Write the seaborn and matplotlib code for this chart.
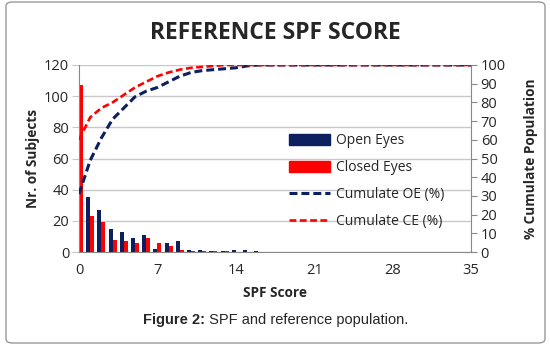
import numpy as np
import pandas as pd
import matplotlib
matplotlib.use("Agg")
import matplotlib.pyplot as plt
from matplotlib.patches import FancyBboxPatch, Patch
from matplotlib.lines import Line2D
import seaborn as sns

# SPF score 0..35
scores = list(range(36))

# number of subjects per score (OE at 0 is hidden by the axis)
open_eyes = [59, 35, 27, 15, 13, 9, 11, 2, 6, 7, 1.5, 1, 0.5, 0.5, 1, 1, 0.5] + [0] * 19
closed_eyes = [107, 23, 19, 8, 7, 6, 9, 6, 4, 1.5, 0.6, 0.5, 0.5, 0.5, 0, 0, 0] + [0] * 19

# cumulative population (%)
cum_oe = [31, 49, 61, 71, 77, 83, 86, 88, 91, 94, 96, 97, 97.5, 98, 98.5, 99.5] + [100] * 20
cum_ce = [60, 72, 77, 80, 84, 88, 91, 94, 96, 97.5, 98.5, 99, 99.5] + [100] * 23

navy = "#0c1f5e"
red = "#ff0000"
dash = (0, (2.6, 1.3))

sns.set_style("white")
plt.rcParams["font.family"] = ["Open Sans", "DejaVu Sans"]

df = pd.DataFrame({
    "score": scores * 2,
    "count": open_eyes + closed_eyes,
    "group": ["Open Eyes"] * 36 + ["Closed Eyes"] * 36,
})

fig = plt.figure(figsize=(5.5, 3.46), dpi=100)
ax = fig.add_axes([79 / 550, 1 - 252 / 346, (471 - 79) / 550, (252 - 65) / 346])

sns.barplot(data=df, x="score", y="count", hue="group", order=scores,
            hue_order=["Open Eyes", "Closed Eyes"], palette=[navy, red],
            width=0.7, gap=0, saturation=1, dodge=True, linewidth=0,
            ax=ax, legend=False)

ax.set_xlim(0, 35)
ax.set_ylim(0, 120)
ax.set_yticks(range(0, 121, 20))
ax.set_xticks(range(0, 36, 7))
ax.set_xticklabels([str(v) for v in range(0, 36, 7)])
ax.set_xticks(np.arange(0, 35.01, 0.7), minor=True)
ax.grid(axis="y", color="#c8c8c8", lw=1)
ax.set_axisbelow(True)
ax.tick_params(axis="x", which="both", direction="out", length=4, color="#888888",
               labelsize=10.5, pad=4)
ax.tick_params(axis="y", direction="out", length=5, color="#c8c8c8", labelsize=10.5, pad=2)
for s in ["top", "right"]:
    ax.spines[s].set_visible(False)
for s in ["left", "bottom"]:
    ax.spines[s].set_color("#888888")
ax.set_xlabel("SPF Score", fontsize=9.8, fontweight="bold", labelpad=6)
ax.set_ylabel("Nr. of Subjects", fontsize=9.8, fontweight="bold", labelpad=3)

ax2 = ax.twinx()
sns.lineplot(x=scores, y=cum_oe, ax=ax2, color=navy, lw=2.2, linestyle=dash)
sns.lineplot(x=scores, y=cum_ce, ax=ax2, color=red, lw=1.9, linestyle=dash)
ax2.set_ylim(0, 100)
ax2.set_xlim(0, 35)
ax2.set_yticks(range(0, 101, 10))
ax2.tick_params(axis="y", direction="out", length=4, color="#888888", labelsize=10.5, pad=3)
for s in ["top", "left", "bottom"]:
    ax2.spines[s].set_visible(False)
ax2.spines["right"].set_color("#888888")
ax2.set_ylabel("% Cumulate Population", fontsize=9.8, fontweight="bold", labelpad=13)

handles = [
    Patch(facecolor=navy, edgecolor=navy),
    Patch(facecolor=red, edgecolor=red),
    Line2D([0], [0], color=navy, lw=2.2, linestyle=dash),
    Line2D([0], [0], color=red, lw=1.9, linestyle=dash),
]
labels = ["Open Eyes", "Closed Eyes", "Cumulate OE (%)", "Cumulate CE (%)"]
ax2.legend(handles, labels, loc="upper left", bbox_to_anchor=(276 / 550, 1 - 121 / 346),
           bbox_transform=fig.transFigure, frameon=False, fontsize=10,
           handlelength=3.0, handleheight=0.85, labelspacing=0.86, handletextpad=0.45)

fig.text(0.5, 1 - 33 / 346, "REFERENCE SPF SCORE", ha="center", va="center",
         fontsize=16.5, fontweight="bold")

# caption: bold "Figure 2:" + normal text, centred as a whole
cap_y = 1 - 320 / 346
cap_font = ["Liberation Sans", "DejaVu Sans"]
t1 = fig.text(0, cap_y, "Figure 2:", ha="left", va="center", fontsize=10.5,
              fontweight="bold", family=cap_font)
t2 = fig.text(0, cap_y, " SPF and reference population.", ha="left", va="center",
              fontsize=10.5, family=cap_font)
fig.canvas.draw()
r = fig.canvas.get_renderer()
w1 = t1.get_window_extent(r).width
w2 = t2.get_window_extent(r).width
x0 = 276 - (w1 + w2) / 2
t1.set_x(x0 / 550)
t2.set_x((x0 + w1) / 550)

border = FancyBboxPatch((6 / 550, 3 / 346), 539 / 550, 341 / 346,
                        boxstyle="round,pad=0,rounding_size=0.012",
                        transform=fig.transFigure, facecolor="none",
                        edgecolor="#999999", lw=1, zorder=0)
fig.patches.append(border)

fig.savefig("out.png", dpi=100)
